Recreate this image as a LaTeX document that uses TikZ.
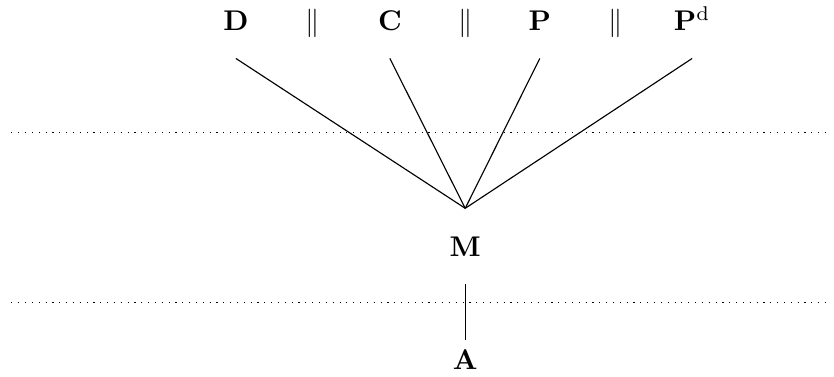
\documentclass[tikz,border=0pt]{standalone}
\usepackage{amsmath,amssymb}
\usepackage{tikz}
\usetikzlibrary{positioning}

\begin{document}
\begin{tikzpicture}[
  every node/.style={font=\normalsize, align=center},
  lbl/.style={anchor=base, inner ysep=9.5pt},
  sep/.style={dotted},
  edge/.style={thin}
]
\useasboundingbox (0,0) rectangle (10.29,4.64);

% TOP ROW
\node[lbl] (D) at (2.91,4.26) {$\mathbf{D}$};
\node[lbl] (par1) at (3.86,4.26) {$\|$};
\node[lbl] (C) at (4.81,4.26) {$\mathbf{C}$};
\node[lbl] (par2) at (5.74,4.26) {$\|$};
\node[lbl] (P) at (6.66,4.26) {$\mathbf{P}$};
\node[lbl] (par3) at (7.59,4.26) {$\|$};
\node[lbl] (Pd) at (8.54,4.26) {$\mathbf{P}^{\mathrm{d}}$};

\coordinate (hub) at (5.74,2.07);

\foreach \n in {D,C,P,Pd}
  \draw[edge] (\n.south) -- (hub);

% SEPARATORS
\draw[sep] (0.14,3.01) -- (10.23,3.01);
\draw[sep] (0.14,0.91) -- (10.23,0.91);

% BOTTOM
\node[lbl] (M) at (5.74,1.48) {$\mathbf{M}$};
\node[anchor=base] (A) at (5.74,0.086) {$\mathbf{A}$};

\draw[edge] (M.south) -- (A.north);

\end{tikzpicture}
\end{document}
